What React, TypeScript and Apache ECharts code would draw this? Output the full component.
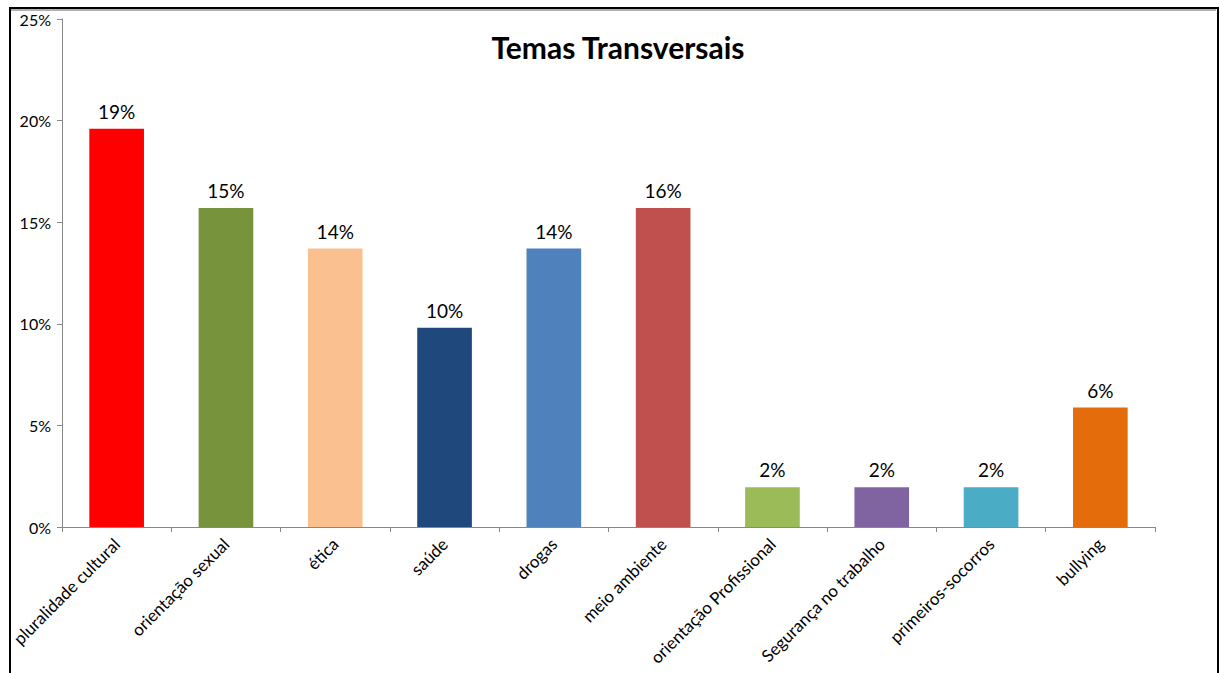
import React, { useEffect, useRef } from "react";
import * as echarts from "echarts";

const categories = [
  "pluralidade cultural",
  "orientação sexual",
  "ética",
  "saúde",
  "drogas",
  "meio ambiente",
  "orientação Profissional",
  "Segurança no trabalho",
  "primeiros-socorros",
  "bullying",
];
const values = [19.6, 15.7, 13.7, 9.8, 13.7, 15.7, 1.96, 1.96, 1.96, 5.88];
const valueLabels = ["19%", "15%", "14%", "10%", "14%", "16%", "2%", "2%", "2%", "6%"];
const colors = [
  "#FF0000",
  "#77933C",
  "#FAC090",
  "#1F497D",
  "#4F81BD",
  "#C0504D",
  "#9BBB59",
  "#8064A2",
  "#4BACC6",
  "#E46C0A",
];
const yTicks = [0, 5, 10, 15, 20, 25];

const FONT = "Lato, 'Open Sans', sans-serif";

export default function App() {
  const ref = useRef<HTMLDivElement>(null);
  useEffect(() => {
    if (!ref.current) return;
    const chart = echarts.init(ref.current, undefined, { renderer: "svg" });
    chart.setOption({
      animation: false,
      backgroundColor: "#ffffff",
      title: {
        text: "Temas Transversais",
        left: 613,
        top: 27,
        textAlign: "center",
        textStyle: { fontFamily: FONT, fontSize: 30, fontWeight: "bold", color: "#000" },
      },
      graphic: [
        {
          type: "rect",
          shape: { x: 10, y: 8, width: 1208, height: 700 },
          style: { fill: "none", stroke: "#000", lineWidth: 2 },
        },
        {
          type: "line",
          shape: { x1: 11, y1: 10, x2: 1216, y2: 10 },
          style: { stroke: "#b0b0b0", lineWidth: 2 },
        },
      ],
      grid: { left: 62, right: 65, top: 19, bottom: 146 },
      xAxis: {
        type: "category",
        data: categories,
        axisLine: { lineStyle: { color: "#888", width: 1 } },
        axisTick: { show: true, alignWithLabel: false, length: 5, lineStyle: { color: "#888" } },
        axisLabel: {
          rotate: 45,
          interval: 0,
          margin: 14,
          fontFamily: FONT,
          fontSize: 17,
          color: "#000",
        },
      },
      yAxis: {
        type: "value",
        min: 0,
        max: 25,
        interval: 5,
        splitLine: { show: false },
        axisLine: { show: true, lineStyle: { color: "#888", width: 1 } },
        axisTick: { show: true, length: 5, lineStyle: { color: "#888" } },
        axisLabel: {
          formatter: (v: number) => (yTicks.includes(v) ? v + "%" : ""),
          margin: 11,
          fontFamily: FONT,
          fontSize: 16,
          color: "#000",
        },
      },
      series: [
        {
          type: "bar",
          barWidth: "50%",
          data: values.map((v, i) => ({ value: v, itemStyle: { color: colors[i] } })),
          label: {
            show: true,
            position: "top",
            distance: 8,
            fontFamily: FONT,
            fontSize: 19,
            color: "#000",
            formatter: (p: any) => valueLabels[p.dataIndex],
          },
        },
      ],
    });
    return () => chart.dispose();
  }, []);
  return (
    <div
      ref={ref}
      style={{ position: "fixed", left: 0, top: 0, width: 1220, height: 673 }}
    />
  );
}
